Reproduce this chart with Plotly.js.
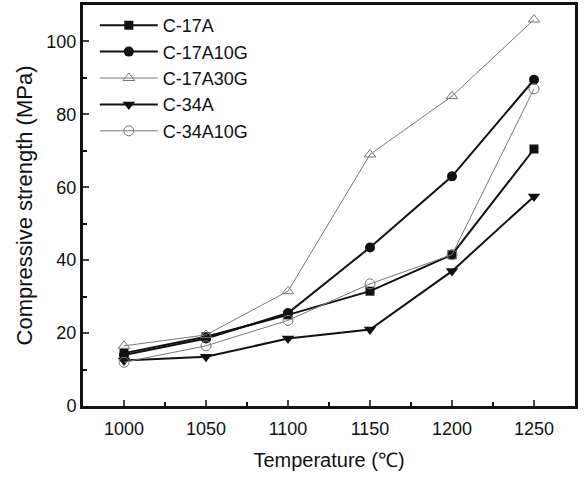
<!DOCTYPE html>
<html>
<head>
<meta charset="utf-8">
<script src="https://cdn.plot.ly/plotly-3.0.1.min.js"></script>
<style>body{margin:0;background:#fff}#chart{width:584px;height:477px}</style>
</head>
<body>
<div id="chart"></div>
<script>
const temperature = [1000, 1050, 1100, 1150, 1200, 1250];
const c17A = [14.5, 19, 25, 31.5, 41.5, 70.5];
const c17A10G = [14, 18.5, 25.5, 43.5, 63, 89.5];
const c17A30G = [16.5, 19.5, 31.5, 69, 85, 106];
const c34A = [12.5, 13.5, 18.5, 21, 37, 57.5];
const c34A10G = [12, 16.5, 23.5, 33.5, 41.5, 87];
const seriesNames = ['C-17A', 'C-17A10G', 'C-17A30G', 'C-34A', 'C-34A10G'];

const black = '#111';
const gray = '#777';
const traces = [
  {y: c17A, name: seriesNames[0], line: {color: black, width: 2}, marker: {symbol: 'square', size: 9, color: black}},
  {y: c17A10G, name: seriesNames[1], line: {color: black, width: 2}, marker: {symbol: 'circle', size: 10, color: black}},
  {y: c17A30G, name: seriesNames[2], line: {color: gray, width: 1}, marker: {symbol: 'triangle-up-open', size: 10, color: gray, line: {width: 1}}},
  {y: c34A, name: seriesNames[3], line: {color: black, width: 2}, marker: {symbol: 'triangle-down', size: 11, color: black}},
  {y: c34A10G, name: seriesNames[4], line: {color: gray, width: 1}, marker: {symbol: 'circle-open', size: 10, color: gray, line: {width: 1}}}
].map(t => Object.assign({x: temperature, type: 'scatter', mode: 'lines+markers'}, t));

const layout = {
  width: 584, height: 477,
  margin: {l: 83, r: 9, t: 5, b: 71},
  paper_bgcolor: '#fff', plot_bgcolor: '#fff',
  font: {family: 'Liberation Sans, Arial, sans-serif', color: '#111', size: 18},
  showlegend: true,
  legend: {x: 0.024, y: 0.995, xanchor: 'left', yanchor: 'top', bgcolor: 'rgba(0,0,0,0)', font: {size: 18}, tracegroupgap: 0, itemwidth: 58},
  xaxis: {
    range: [975, 1275], tickvals: temperature, ticks: 'inside', ticklen: 6, tickwidth: 2,
    showline: true, linewidth: 3, linecolor: '#111', mirror: true, showgrid: false, zeroline: false,
    tickfont: {size: 18}, ticklabelstandoff: 4,
    minor: {ticks: 'inside', ticklen: 4, tickwidth: 2, dtick: 25, tick0: 975, tickcolor: '#111'},
    title: {text: 'Temperature (℃)', font: {size: 20}, standoff: 16}
  },
  yaxis: {
    range: [0, 110], tickvals: [0, 20, 40, 60, 80, 100], ticks: 'inside', ticklen: 6, tickwidth: 2,
    showline: true, linewidth: 3, linecolor: '#111', mirror: true, showgrid: false, zeroline: false,
    tickfont: {size: 18},
    minor: {ticks: 'inside', ticklen: 4, tickwidth: 2, dtick: 10, tickcolor: '#111'},
    title: {text: 'Compressive strength (MPa)', font: {size: 22}, standoff: 8}
  }
};
Plotly.newPlot('chart', traces, layout, {displayModeBar: false, staticPlot: true});
</script>
</body>
</html>
